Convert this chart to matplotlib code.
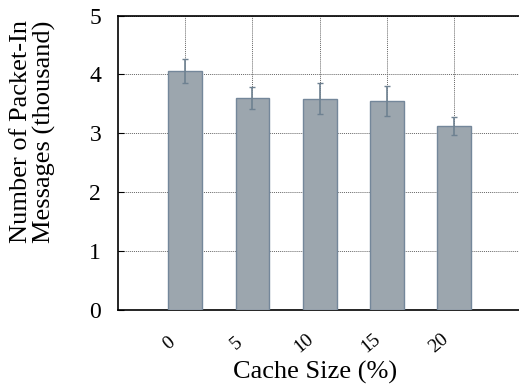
import matplotlib
matplotlib.use("Agg")
import matplotlib.pyplot as plt
import matplotlib.transforms as mtrans

plt.rcParams['font.family'] = ['Liberation Serif', 'DejaVu Serif']

cache_sizes = ["0", "5", "10", "15", "20"]
packet_in = [4.06, 3.60, 3.59, 3.55, 3.12]
packet_in_err = [0.20, 0.18, 0.26, 0.25, 0.15]

fig = plt.figure(figsize=(5.19, 3.88), dpi=100)
ax = fig.add_axes([0.227, 0.201, 0.778, 0.759])

pos = list(range(len(cache_sizes)))
ax.bar(pos, packet_in, width=0.5, color="#9ca6ae", edgecolor="#74879a",
       linewidth=1.0, zorder=3)
ax.errorbar(pos, packet_in, yerr=packet_in_err, fmt="none", ecolor="#6e8191",
            elinewidth=1.2, capsize=2.5, capthick=1.0, zorder=4)

ax.set_xlim(-1, 5)
ax.set_ylim(0, 5)
ax.set_xticks(pos)
ax.set_yticks([0, 1, 2, 3, 4, 5])
ax.tick_params(axis="y", labelsize=17, direction="in", length=4, pad=12)
ax.tick_params(axis="x", length=0, pad=24)
ax.set_xticklabels(cache_sizes, rotation=40, fontsize=14, ha="center",
                   va="center")
# gnuplot puts the rotated labels a bit left of the tick
shift = mtrans.ScaledTranslation(-16 / 100, 0, fig.dpi_scale_trans)
for lbl in ax.get_xticklabels():
    lbl.set_transform(lbl.get_transform() + shift)
ax.grid(True, linestyle=(0, (1, 1)), color="#666666", linewidth=0.7, zorder=0)
ax.set_axisbelow(True)

ax.set_xlabel("Cache Size (%)", fontsize=19)
ax.xaxis.set_label_coords(0.488, -0.172)
ax.set_ylabel("Number of Packet-In\nMessages (thousand)", fontsize=19,
              linespacing=1.1)
ax.yaxis.set_label_coords(-0.152, 0.605)

for s in ax.spines.values():
    s.set_linewidth(1.2)

fig.savefig("out.png", dpi=100)
